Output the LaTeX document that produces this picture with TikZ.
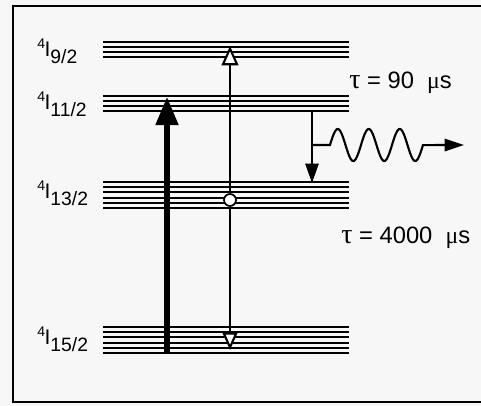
\documentclass[tikz,border=0pt]{standalone}
\usepackage{fontspec}
\setmainfont{Liberation Sans}
\newfontfamily\grk{Liberation Serif}
\usepackage{tikz}
\usetikzlibrary{arrows.meta}
\newcommand{\term}[1]{\raisebox{4.6pt}{\fontsize{8}{9}\selectfont 4}\kern-0.3pt I\raisebox{-3.8pt}{\fontsize{11}{12}\selectfont #1}}
\newcommand{\gl}[1]{{\grk\fontsize{16}{16}\selectfont #1}}
\tikzset{
  lvl/.style={line width=1.1pt},
  lbl/.style={anchor=west, inner sep=0pt, font=\fontsize{12}{14}\selectfont},
  life/.style={anchor=west, inner sep=0pt, font=\fontsize{13.5}{15}\selectfont},
}

\begin{document}
\begin{tikzpicture}[x=0.02cm, y=-0.02cm]
\useasboundingbox[fill=black!3] (0,0) rectangle (481,406);
% frame
\draw[line width=1.4pt] (481,6) -- (13,6) -- (13,402) -- (481,402);
% the four levels
\foreach \y in {42,47,52,57} \draw[lvl] (103,\y) -- (349,\y);
\foreach \y in {96,101,106,111} \draw[lvl] (103,\y) -- (349,\y);
\foreach \y in {182,187.2,192.4,197.6,202.8,208} \draw[lvl] (103,\y) -- (349,\y);
\foreach \y in {327,332.2,337.4,342.6,347.8,353} \draw[lvl] (103,\y) -- (349,\y);
\node[lbl] (l9) at (37,51) {\term{9/2}};
\node[lbl] (l11) at (37,104) {\term{11/2}};
\node[lbl] (l13) at (37,193) {\term{13/2}};
\node[lbl] (l15) at (37,339) {\term{15/2}};
% pump arrow
\coordinate (pumpA) at (167,353);
\coordinate (pumpB) at (167,97);
\draw[line width=3pt, -{Triangle[length=16pt, width=12.5pt]}] (pumpA) -- (pumpB);
% thin line with open heads and the dot on 4I13/2
\coordinate (upB) at (230,46);
\coordinate (dnB) at (230,350);
\node[circle, draw, fill=white, line width=1pt, inner sep=0pt, minimum size=12*0.02cm] (dot) at (230,200) {};
\draw[line width=1.2pt, -{Triangle[fill=white, length=11pt, width=9.5pt]}] (dot) -- (upB);
\draw[line width=1.2pt, -{Triangle[fill=white, length=10pt, width=8.5pt]}] (dot) -- (dnB);
% decay 4I11/2 -> 4I13/2 and the photon
\coordinate (dcA) at (312,112);
\coordinate (dcB) at (312,183);
\coordinate (dcM) at (312,145);
\coordinate (phB) at (464,145);
\draw[line width=1.2pt, -{Triangle[length=11pt, width=7.5pt]}] (dcA) -- (dcB);
\draw[line width=1.2pt, -{Triangle[length=11pt, width=7pt]}] (dcM) -- (330,145)
  -- plot[domain=0:3, samples=121, smooth] ({330+31*\x},{145-16*sin(360*\x)}) -- (phB);
% lifetimes
\node[life] (t90) at (349,83) {\gl{τ} = 90\ \ {\grk μ}s};
\node[life] (t4000) at (341,238) {\gl{τ} = 4000\ \ {\grk μ}s};
\end{tikzpicture}
\end{document}
